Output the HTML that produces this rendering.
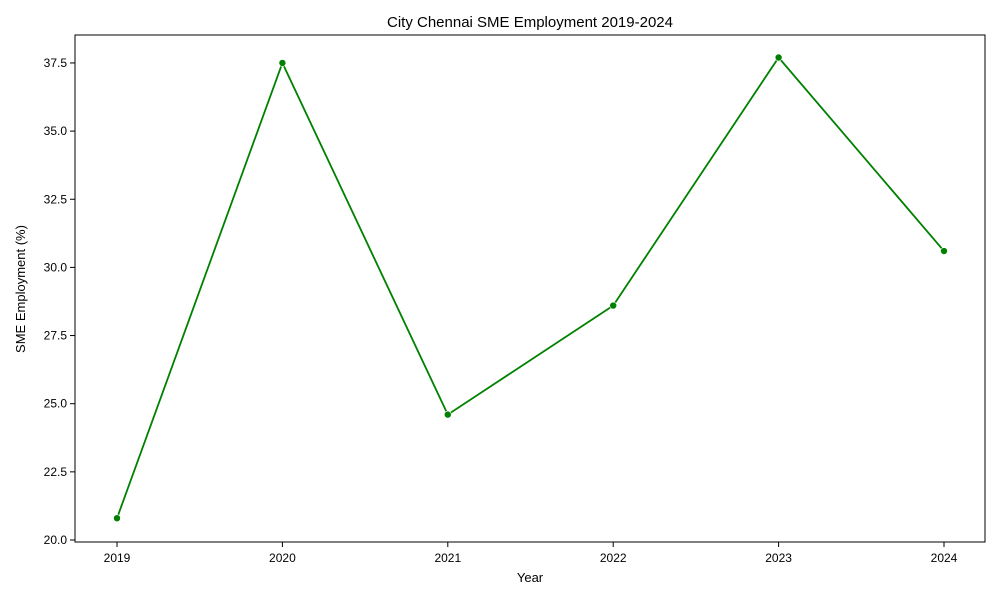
<!DOCTYPE html>
<html><head><meta charset="utf-8"><style>
body{margin:0;background:#fff;font-family:"Liberation Sans","DejaVu Sans",sans-serif;}
</style></head><body>
<svg id="chart" width="1000" height="600" xmlns="http://www.w3.org/2000/svg">
<rect x="0" y="0" width="1000" height="600" fill="#fff"/>
<text x="530" y="27" text-anchor="middle" font-size="15">City Chennai SME Employment 2019-2024</text>
<text x="530" y="582" text-anchor="middle" font-size="13">Year</text>
<text transform="translate(25,289) rotate(-90)" text-anchor="middle" font-size="13">SME Employment (%)</text>
<g id="xt"></g><g id="yt"></g><g id="series"></g>
<rect x="75" y="35" width="910" height="507" fill="none" stroke="#000" stroke-width="1"/>
</svg>
<script>
const years=[2019,2020,2021,2022,2023,2024];
const values=[20.8,37.5,24.6,28.6,37.7,30.6];
const yTicks=[20.0,22.5,25.0,27.5,30.0,32.5,35.0,37.5];
const NS="http://www.w3.org/2000/svg";
function xs(v){return 117+(v-2019)*165.4;}
function ys(v){return 540-(v-20)*27.26;}
const xt=document.getElementById('xt'),yt=document.getElementById('yt'),sg=document.getElementById('series');
function mk(tag,attrs,parent){const e=document.createElementNS(NS,tag);for(const k in attrs)e.setAttribute(k,attrs[k]);parent.appendChild(e);return e;}
years.forEach(y=>{
 const x=xs(y);
 const t=mk('line',{x1:x,x2:x,y1:542,y2:547,stroke:'#000'},xt);
 
 
 const l=mk('text',{x:x,y:562,'text-anchor':'middle','font-size':12},xt);
 l.textContent=y;
 
 
});
yTicks.forEach(v=>{
 const y=ys(v);
 const t=mk('line',{x1:70,x2:75,y1:y,y2:y,stroke:'#000'},yt);
 
 
 const l=mk('text',{x:67,y:y+4,'text-anchor':'end','font-size':12},yt);
 l.textContent=v.toFixed(1);
 
 
});
const pts=years.map((y,i)=>xs(y)+','+ys(values[i])).join(' ');
const pl=mk('polyline',{points:pts,fill:'none',stroke:'#008000','stroke-width':1.8},sg);


years.forEach((y,i)=>{
 const c=mk('circle',{cx:xs(y),cy:ys(values[i]),r:3.5,fill:'#008000',stroke:'#fff','stroke-width':0.6},sg);
 
 
});
</script>
</body></html>
